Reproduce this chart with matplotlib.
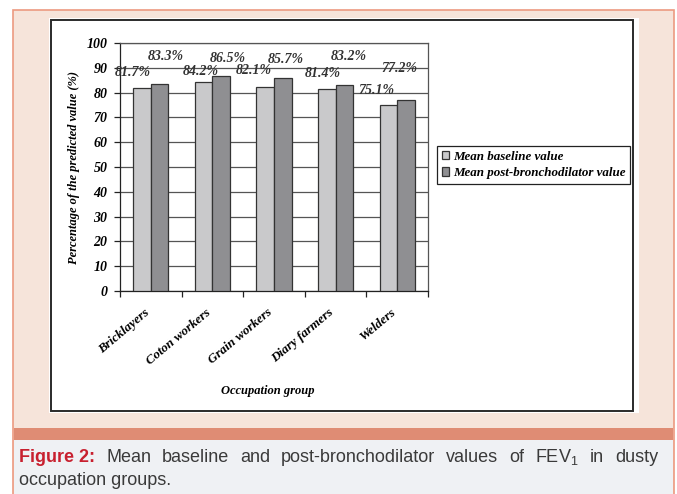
import numpy as np
import matplotlib
matplotlib.use("Agg")
import matplotlib.pyplot as plt
from matplotlib.patches import Rectangle
from matplotlib.transforms import ScaledTranslation

groups = ["Bricklayers", "Coton workers", "Grain workers", "Diary farmers", "Welders"]
baseline = [81.7, 84.2, 82.1, 81.4, 75.1]
post_bd = [83.3, 86.5, 85.7, 83.2, 77.2]
series_names = ["Mean baseline value", "Mean post-bronchodilator value"]

# hand placed value labels (pixel nudges from bar top)
base_dx = [-9, -3, -11, -4, -12]
base_dy = [16, 11, 17, 16, 14]
post_dx = [6, 7, 3, 4, -7]
post_dy = [28, 18, 19, 28, 31]

W, H = 677, 494
fig = plt.figure(figsize=(W / 100, H / 100), dpi=100)
fig.patch.set_facecolor("white")

def px(x0, y0, x1, y1):
    # pixel box (top-left origin) -> figure fraction rect
    return (x0 / W, 1 - y1 / H), (x1 - x0) / W, (y1 - y0) / H

def box(x0, y0, x1, y1, **kw):
    xy, w, h = px(x0, y0, x1, y1)
    fig.patches.append(Rectangle(xy, w, h, transform=fig.transFigure, **kw))

# page frame, band and caption panel
box(13, 10, 674, 500, facecolor="#f6e4da", edgecolor="#ec9a80", lw=1.2, zorder=0)
box(14, 428, 673, 440, facecolor="#df8c74", edgecolor="none", zorder=1)
box(14, 440, 673, 500, facecolor="#eff1f4", edgecolor="none", zorder=1)
box(49, 18, 639, 413, facecolor="white", edgecolor="none", zorder=1)
box(51, 20, 633, 411, facecolor="none", edgecolor="#2a2a2a", lw=1.4, zorder=2)

serif = dict(family="Liberation Serif", weight="bold", style="italic")

xy, w, h = px(120, 43, 428, 291)
ax = fig.add_axes([xy[0], xy[1], w, h], zorder=3)
ax.set_facecolor("white")

x = np.arange(len(groups))
bw = 0.285
light, dark = "#c9c9cb", "#8f8f92"
b1 = ax.bar(x - bw / 2, baseline, bw, color=light, edgecolor="#333333", lw=0.9, zorder=3,
            label=series_names[0])
b2 = ax.bar(x + bw / 2, post_bd, bw, color=dark, edgecolor="#333333", lw=0.9, zorder=3,
            label=series_names[1])

for i in range(len(groups)):
    ax.annotate(f"{baseline[i]}%", (x[i] - bw / 2, baseline[i]), xytext=(base_dx[i], base_dy[i]),
                textcoords="offset pixels", ha="center", va="center", fontsize=10,
                color="#333333", zorder=4, **serif)
    ax.annotate(f"{post_bd[i]}%", (x[i] + bw / 2, post_bd[i]), xytext=(post_dx[i], post_dy[i]),
                textcoords="offset pixels", ha="center", va="center", fontsize=10,
                color="#333333", zorder=4, **serif)

ax.set_xlim(-0.5, len(groups) - 0.5)
ax.set_ylim(0, 100)
ax.set_yticks(np.arange(0, 101, 10))
ax.yaxis.grid(True, color="#555555", lw=0.9, zorder=0)
ax.set_axisbelow(True)
for s in ax.spines.values():
    s.set_color("#555555")
    s.set_linewidth(0.9)
ax.spines["left"].set_color("#222222")
ax.spines["bottom"].set_color("#222222")
ax.tick_params(axis="y", length=4, width=0.9, pad=5, labelsize=10, color="#222222")
for t in ax.get_yticklabels():
    t.set(**serif)

ax.set_xticks(x)
ax.set_xticklabels(groups, rotation=40, ha="right", va="top", rotation_mode="anchor")
ax.set_xticks(np.arange(-0.5, len(groups), 1), minor=True)
ax.tick_params(axis="x", which="major", length=0, pad=11, labelsize=9.5)
ax.tick_params(axis="x", which="minor", length=4, width=0.9, color="#222222")
offset = ScaledTranslation(-7 / 100, 0, fig.dpi_scale_trans)
for t in ax.get_xticklabels():
    t.set(**serif)
    t.set_transform(t.get_transform() + offset)

ax.set_ylabel("Percentage of the predicted value (%)", fontsize=9, **serif)
ax.yaxis.set_label_coords(-0.13, 0.5)
ax.set_xlabel("Occupation group", fontsize=9, **serif)
ax.xaxis.set_label_coords(0.48, -0.38)

leg = fig.legend(loc="upper left", bbox_to_anchor=(437 / W, 1 - 146 / H), fancybox=False,
                 edgecolor="#222222", framealpha=1, handlelength=0.6, handleheight=0.6,
                 handletextpad=0.3, borderpad=0.35, labelspacing=0.35, borderaxespad=0,
                 prop=dict(family="Liberation Serif", weight="bold", style="italic", size=9.4))
leg.get_frame().set_linewidth(0.9)
leg.set_zorder(5)

# caption, first line justified
cap_size = 13
words = ["Mean", "baseline", "and", "post-bronchodilator", "values", "of",
         r"$\mathregular{FEV_1}$", "in", "dusty"]
renderer = fig.canvas.get_renderer()
y1 = 1 - 457 / H
head = fig.text(19 / W, y1, "Figure 2:", color="#c8202f", fontsize=cap_size, weight="bold",
                family="Liberation Sans", va="center", zorder=6)
arts = [head] + [fig.text(0, y1, wd, color="#3a3a3a", fontsize=cap_size, family="Liberation Sans",
                          va="center", zorder=6) for wd in words]
widths = [a.get_window_extent(renderer).width for a in arts]
left, right = 19, 658
gap = (right - left - sum(widths)) / (len(arts) - 1)
xpos = left
for a, wd in zip(arts, widths):
    a.set_x(xpos / W)
    xpos += wd + gap
fig.text(19 / W, 1 - 480 / H, "occupation groups.", color="#3a3a3a", fontsize=cap_size,
         family="Liberation Sans", va="center", zorder=6)

fig.savefig("out.png", dpi=100)
